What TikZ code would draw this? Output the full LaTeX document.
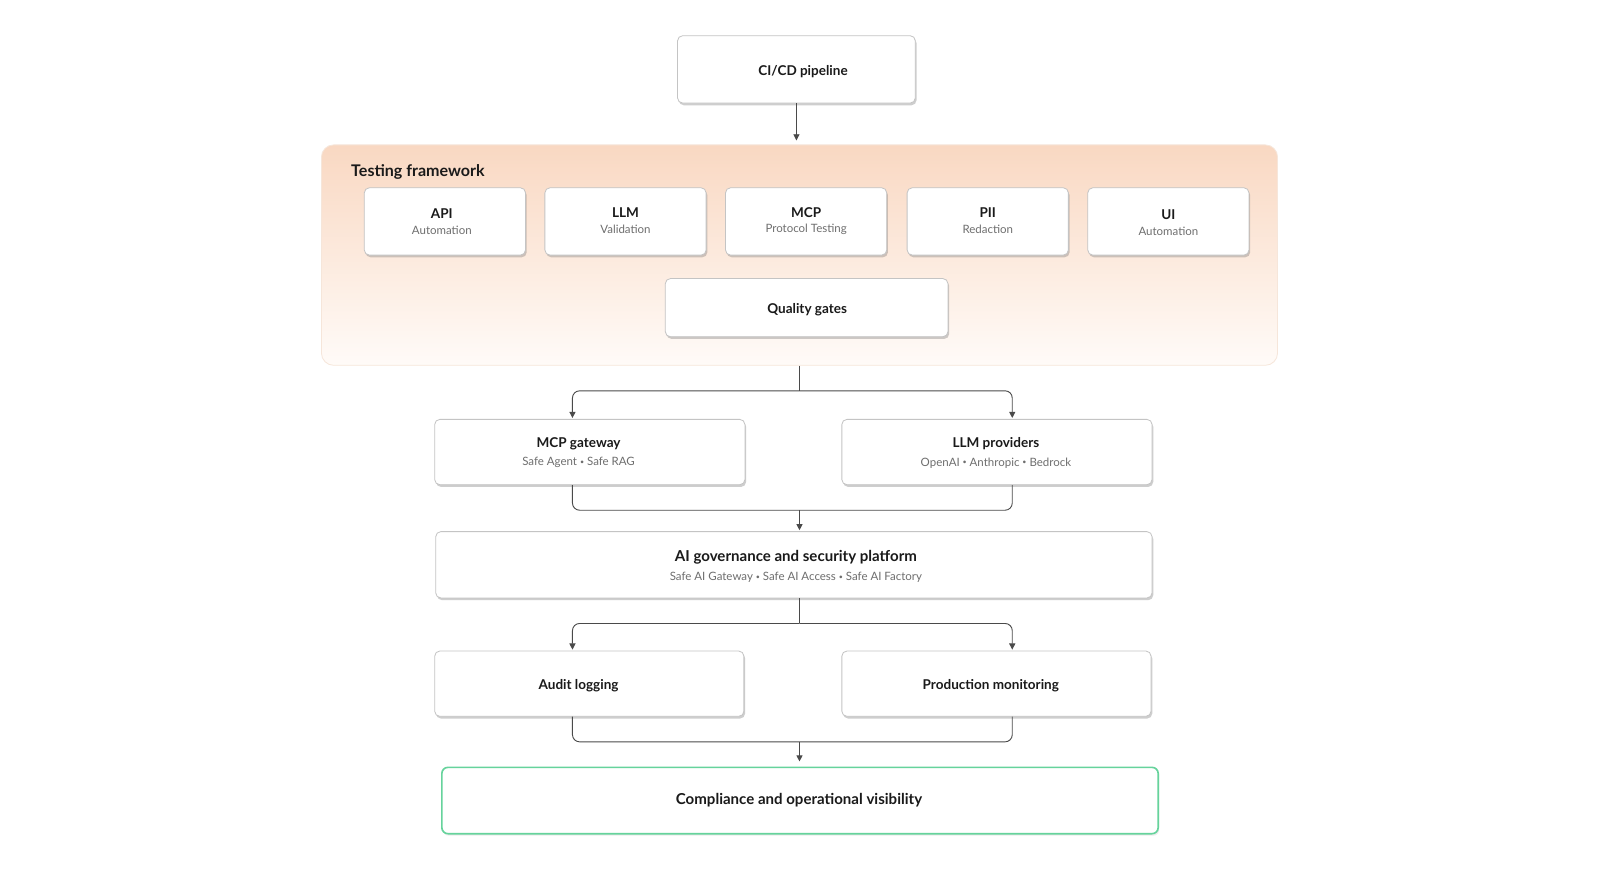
\documentclass[tikz,border=0pt]{standalone}
\usepackage{fontspec}
\setmainfont{Lato}
\usetikzlibrary{shadows,arrows.meta}
\definecolor{boxborder}{HTML}{C4C4C4}
\definecolor{conncol}{HTML}{4A4A4A}
\definecolor{titlecol}{HTML}{1A1A1A}
\definecolor{subcol}{HTML}{6E6E6E}
\definecolor{peachtop}{HTML}{F9D8C2}
\definecolor{peachbot}{HTML}{FFFBF8}
\definecolor{panelborder}{HTML}{F6E6DA}
\definecolor{greenb}{HTML}{66D39C}
\newcommand\sbul{{\fontsize{7}{8}\selectfont\raisebox{0.3ex}{•}}}
\begin{document}
\begin{tikzpicture}[x=1bp,y=-1bp,
  box/.style={draw=boxborder, line width=0.8bp, fill=white, rounded corners=5bp, inner sep=0pt,
    drop shadow={shadow xshift=1.2bp, shadow yshift=-2.2bp, opacity=0.35, fill=black!55}},
  greenbox/.style={draw=greenb, line width=1.6bp, fill=white, rounded corners=6bp, inner sep=0pt,
    drop shadow={shadow xshift=1bp, shadow yshift=-2bp, opacity=0.15, fill=black!50}},
  panel/.style={draw=panelborder, line width=0.8bp, top color=peachtop, bottom color=peachbot, rounded corners=12bp, inner sep=0pt},
  ttl/.style={font=\fontsize{13.3}{16}\selectfont\bfseries, text=titlecol, inner sep=0pt, yshift=-1.7bp},
  bigttl/.style={font=\fontsize{14.8}{18}\selectfont\bfseries, text=titlecol, inner sep=0pt, yshift=-1.8bp},
  sub/.style={font=\fontsize{11.3}{13}\selectfont, text=subcol, inner sep=0pt, yshift=-1.5bp},
  line/.style={draw=conncol, line width=0.9bp},
  arr/.style={line, -{Triangle[length=6bp,width=6bp]}},
  rc/.style={rounded corners=7bp}
]
\useasboundingbox (0,0) rectangle (1568,868.3);
\fill[white] (0,0) rectangle (1568,868.3);

% CI/CD
\node[box, minimum width=233bp, minimum height=66bp] (cicd) at (780.5,68) {};
\node[ttl] (cicdT) at (787,68) {CI/CD pipeline};

% Testing framework panel
\node[panel, minimum width=937bp, minimum height=216bp] (tf) at (783.5,250) {};
\node[font=\fontsize{15.8}{19}\selectfont\bfseries, text=titlecol, anchor=west, inner sep=0pt] (tfT) at (344,168.5) {Testing framework};

% five boxes
\node[box, minimum width=158bp, minimum height=66bp] (api) at (436,217) {};
\node[box, minimum width=158bp, minimum height=66bp] (llmv) at (613,217) {};
\node[box, minimum width=158bp, minimum height=66bp] (mcpt) at (790,217) {};
\node[box, minimum width=158bp, minimum height=66bp] (pii) at (968,217) {};
\node[box, minimum width=158bp, minimum height=66bp] (ui) at (1145,217) {};
\node[ttl] (apiT) at (433,208) {API};
\node[sub] (apiS) at (433,224.5) {Automation};
\node[ttl] (llmT) at (613,207) {LLM};
\node[sub] (llmS) at (613,223.5) {Validation};
\node[ttl] (mcpT) at (790,207) {MCP};
\node[sub] (mcpS) at (790,223.5) {Protocol Testing};
\node[ttl] (piiT) at (968,207) {PII};
\node[sub] (piiS) at (968,223) {Redaction};
\node[ttl] (uiT) at (1145,209) {UI};
\node[sub] (uiS) at (1145,225.5) {Automation};

% quality gates
\node[box, minimum width=277bp, minimum height=57bp] (qg) at (790.5,301.5) {};
\node[ttl] (qgT) at (791,301.5) {Quality gates};

% middle row
\node[box, minimum width=304bp, minimum height=64bp] (mcpg) at (578,443) {};
\node[box, minimum width=304bp, minimum height=64bp] (llmp) at (977,443) {};
\node[ttl] (mcpgT) at (567,433) {MCP gateway};
\node[sub] (mcpgS) at (567,452) {Safe Agent \sbul{} Safe RAG};
\node[ttl] (llmpT) at (976,433) {LLM providers};
\node[sub] (llmpS) at (976,452) {OpenAI \sbul{} Anthropic \sbul{} Bedrock};

% AI governance
\node[box, minimum width=702bp, minimum height=65bp] (ai) at (778,553.5) {};
\node[bigttl] (aiT) at (780,544.5) {AI governance and security platform};
\node[sub] (aiS) at (780,564) {Safe AI Gateway \sbul{} Safe AI Access \sbul{} Safe AI Factory};

% bottom row
\node[box, minimum width=303bp, minimum height=64bp] (audit) at (577.5,670) {};
\node[box, minimum width=303bp, minimum height=64bp] (prod) at (976.5,670) {};
\node[ttl] (auditT) at (567,670) {Audit logging};
\node[ttl] (prodT) at (971,670) {Production monitoring};

% compliance
\node[greenbox, minimum width=702bp, minimum height=65bp] (comp) at (784,784.5) {};
\node[bigttl] (compT) at (783,782.5) {Compliance and operational visibility};

% connector coordinates
\coordinate (lx) at (561,0);
\coordinate (rx) at (992,0);
\coordinate (j1) at (783.5,383);
\coordinate (j2) at (783.5,500);
\coordinate (j3) at (783.5,611);
\coordinate (j4) at (783.5,727);

% connectors
\draw[arr] (cicd.south) -- ([yshift=4bp]cicd.south |- tf.north) ;
\draw[line] (tf.south -| j1) -- (j1);
\draw[arr, rc] (j1) -| ([yshift=1bp]mcpg.north -| lx);
\draw[arr, rc] (j1) -| ([yshift=1bp]llmp.north -| rx);
\draw[line, rc] (mcpg.south -| lx) -- (lx |- j2) -- (rx |- j2) -- (llmp.south -| rx);
\draw[arr] (j2) -- ([yshift=1bp]ai.north -| j2);
\draw[line] (ai.south -| j3) -- (j3);
\draw[arr, rc] (j3) -| ([yshift=1bp]audit.north -| lx);
\draw[arr, rc] (j3) -| ([yshift=1bp]prod.north -| rx);
\draw[line, rc] (audit.south -| lx) -- (lx |- j4) -- (rx |- j4) -- (prod.south -| rx);
\draw[arr] (j4) -- ([yshift=5bp]comp.north -| j4);
\end{tikzpicture}
\end{document}
